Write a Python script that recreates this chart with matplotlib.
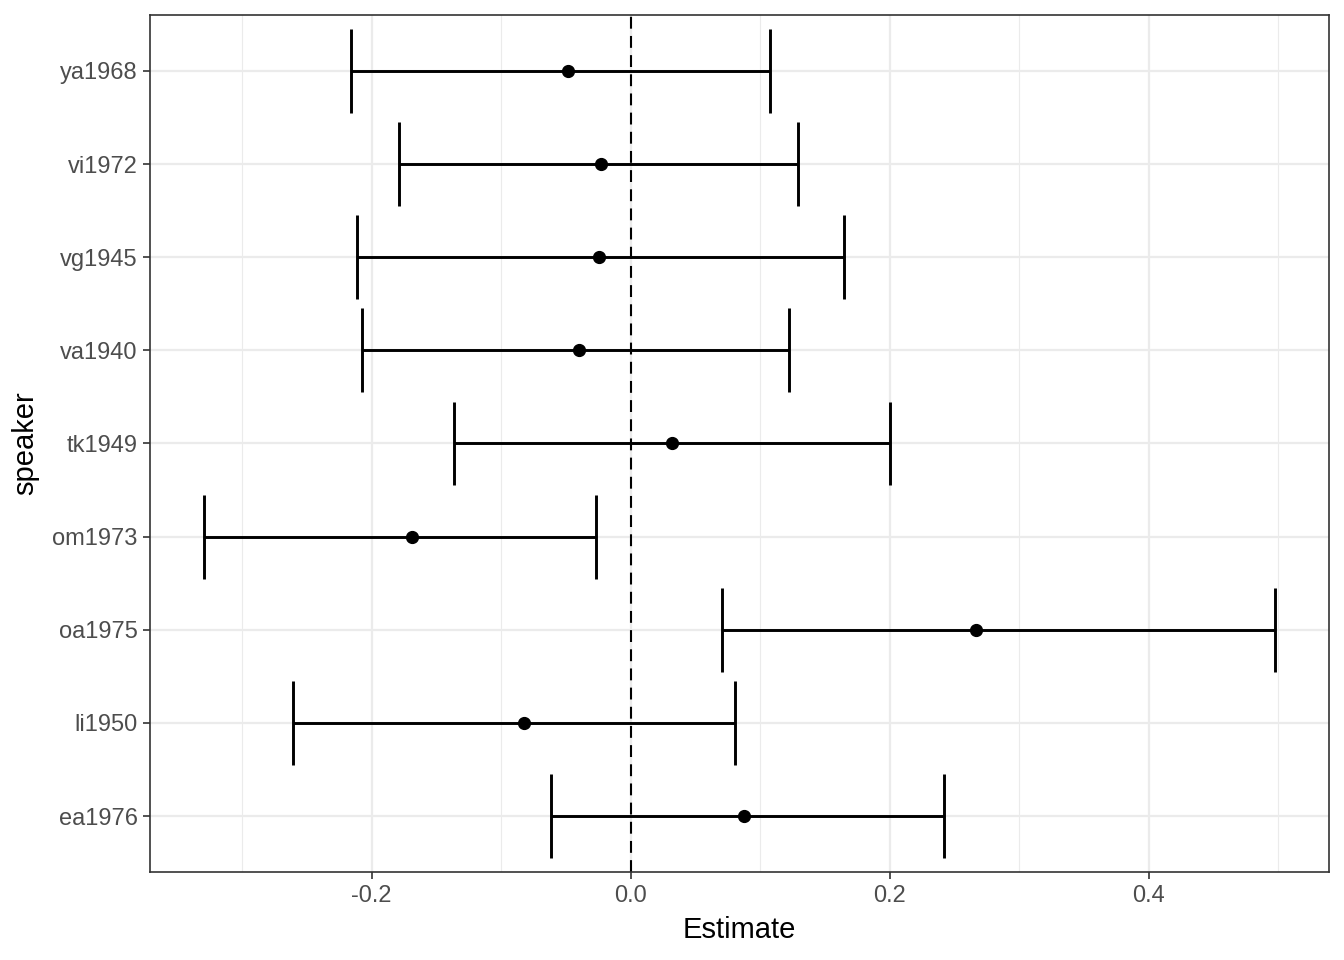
import numpy as np
import matplotlib.pyplot as plt
from matplotlib.ticker import MultipleLocator

plt.rcParams['font.family'] = ['Liberation Sans', 'DejaVu Sans']
plt.rcParams['axes.unicode_minus'] = False

# speakers, bottom to top
speakers = ['ea1976', 'li1950', 'oa1975', 'om1973', 'tk1949',
            'va1940', 'vg1945', 'vi1972', 'ya1968']
estimate = [0.0873, -0.0826, 0.2664, -0.169, 0.0324,
            -0.040, -0.024, -0.023, -0.0486]
lower = [-0.0618, -0.261, 0.071, -0.3297, -0.136,
         -0.2077, -0.2116, -0.179, -0.216]
upper = [0.2417, 0.081, 0.498, -0.027, 0.200,
         0.122, 0.1645, 0.129, 0.108]

fig = plt.figure(figsize=(13.44, 9.6), dpi=100)
ax = fig.add_axes([150/1344, 1 - 872/960, 1179/1344, 857/960])

ypos = np.arange(len(speakers))
est = np.array(estimate)
lo = np.array(lower)
hi = np.array(upper)

# grid
ax.set_axisbelow(True)
ax.xaxis.set_major_locator(MultipleLocator(0.2))
ax.xaxis.set_minor_locator(MultipleLocator(0.1))
ax.grid(True, which='major', color='#EBEBEB', linewidth=1.6)
ax.grid(True, which='minor', axis='x', color='#EBEBEB', linewidth=0.8)

ax.axvline(0, color='black', linewidth=1.5, dashes=(5.7, 3.5), zorder=2)

ax.hlines(ypos, lo, hi, color='black', linewidth=2.1, zorder=3)
ax.vlines(lo, ypos - 0.45, ypos + 0.45, color='black', linewidth=2.1, zorder=3)
ax.vlines(hi, ypos - 0.45, ypos + 0.45, color='black', linewidth=2.1, zorder=3)
ax.plot(est, ypos, 'o', color='black', markersize=8.5, zorder=4)

span = hi.max() - lo.min()
ax.set_xlim(lo.min() - 0.05 * span, hi.max() + 0.05 * span)
ax.set_ylim(-0.6, len(speakers) - 0.4)
ax.set_yticks(ypos)
ax.set_yticklabels(speakers)

for s in ax.spines.values():
    s.set_color('#333333')
    s.set_linewidth(1.2)
ax.tick_params(axis='both', which='major', colors='#333333', length=5,
               width=1.2, labelsize=17, labelcolor='#4D4D4D', pad=4)
ax.tick_params(axis='x', which='minor', length=0)

ax.set_xlabel('Estimate', fontsize=21, labelpad=7)
ax.set_ylabel('speaker', fontsize=21, labelpad=9)

fig.savefig('out.png', dpi=100)
